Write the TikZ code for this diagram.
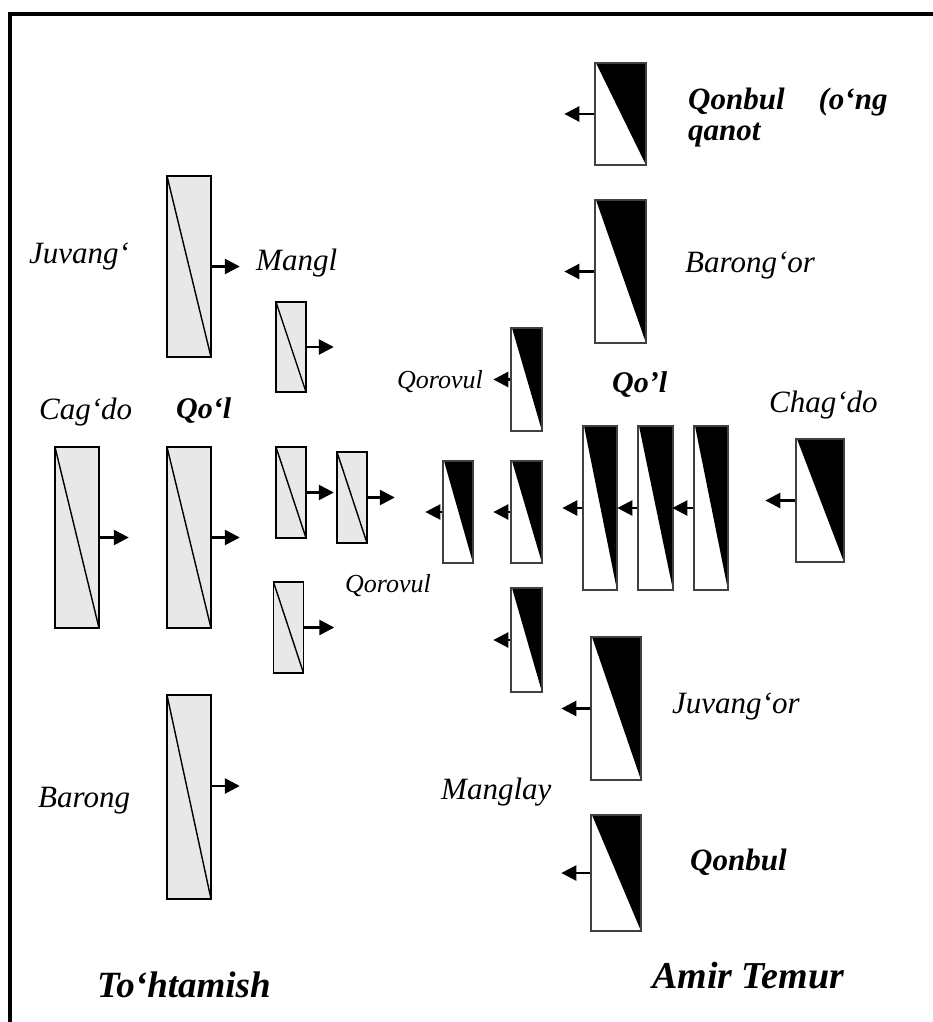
\documentclass[tikz,border=0pt]{standalone}
\usepackage{fontspec}
\setmainfont{Liberation Serif}
\usetikzlibrary{arrows.meta, positioning}
\definecolor{boxgrey}{RGB}{232,232,232}

\begin{document}
\begin{tikzpicture}[x=1pt,y=-1pt,
	tbox/.style={draw,line width=1.6pt,fill=boxgrey,inner sep=0pt,
		path picture={\draw[black,line width=1.4pt] (path picture bounding box.north west) -- (path picture bounding box.south east);}},
	abox/.style={draw=black!75,line width=1.3pt,fill=white,inner sep=0pt,
		path picture={\fill[black] ([xshift=1pt]path picture bounding box.north west) -- (path picture bounding box.north east) -- (path picture bounding box.south east) -- cycle;}},
	wh/.style 2 args={minimum width=#1pt,minimum height=#2pt},
	lbl/.style={font=\fontsize{31}{34}\selectfont\itshape,inner sep=0pt,anchor=base west},
	lbls/.style={font=\fontsize{26}{29}\selectfont\itshape,inner sep=0pt,anchor=base west},
	lblb/.style={font=\fontsize{31}{34}\selectfont\bfseries\itshape,inner sep=0pt,anchor=base west},
	lblh/.style={font=\fontsize{38}{42}\selectfont\bfseries\itshape,inner sep=0pt,anchor=base west}]
					\useasboundingbox (0,0) rectangle (933,1022);
					\draw[line width=4pt] (9.5,1022) -- (9.5,14) -- (933,14);
					
					% To'htamish
					\node[tbox,wh={44}{181}] (Juv) at (189,266.5) {};
					\node[tbox,wh={44}{181}] (Cag) at (77,537.5) {};
					\node[tbox,wh={44}{181}] (Qol) at (189,537.5) {};
					\node[tbox,wh={44}{204}] (Bar) at (189,797) {};
					\node[tbox,wh={30}{90}] (Man1) at (291,347) {};
					\node[tbox,wh={30}{91}] (Qor1) at (291,492.5) {};
					\node[tbox,wh={30}{91}] (Qor2) at (352,497.5) {};
					\node[tbox,wh={30}{91}] (Man2) at (288.5,627.5) {};
					
					% Amir Temur
					\node[abox,wh={51}{102}] (Qon1) at (620.5,114) {};
					\node[abox,wh={51}{143}] (BarO) at (620.5,271.5) {};
					\node[abox,wh={31}{103}] (QorA) at (526.5,379.5) {};
					\node[abox,wh={30}{102}] (QorD) at (458,512) {};
					\node[abox,wh={31}{102}] (QorE) at (526.5,512) {};
					\node[abox,wh={34}{164}] (QolF) at (600,508) {};
					\node[abox,wh={35}{164}] (QolG) at (655.5,508) {};
					\node[abox,wh={34}{164}] (QolH) at (711,508) {};
					\node[abox,wh={48}{123}] (Chag) at (820,500.5) {};
					\node[abox,wh={31}{104}] (ManA) at (526.5,640) {};
					\node[abox,wh={50}{143}] (JuvO) at (616,708.5) {};
					\node[abox,wh={50}{116}] (Qon2) at (616,873) {};
					
					% labels
					\node[lbl] (lJuv) at (29,263) {Juvang‘};
					\node[lbl] (lMan) at (256,270) {Mangl};
					\node[lbl] (lCag) at (39,419) {Cag‘do};
					\node[lblb,font=\fontsize{30}{33}\selectfont\bfseries\itshape] (lQol) at (176,418) {Qo‘l};
					\node[lbl] (lBar) at (38,807) {Barong};
					\node[lbls,anchor=base east] (lQorA) at (483,388) {Qorovul};
					\node[lbls] (lQorB) at (345,592) {Qorovul};
					\node[lblb,font=\fontsize{30}{33}\selectfont\bfseries\itshape] (lQolA) at (612,392) {Qo’l};
					\node[lbl] (lChag) at (769,412) {Chag‘do};
					\node[lblb] (lQon1) at (688,110) {Qonbul\hspace{34pt}(o‘ng};
					\node[lblb] (lQan) at (688,140) {qanot};
					\node[lbl] (lBarO) at (685,272) {Barong‘or};
					\node[lbl] (lJuvO) at (672,713) {Juvang‘or};
					\node[lbl] (lMang) at (441,799) {Manglay};
					\node[lblb] (lQon2) at (690,870) {Qonbul};
					\node[lblh,font=\fontsize{37}{41}\selectfont\bfseries\itshape] (lTox) at (97,997) {To‘htamish};
					\node[lblh] (lAmir) at (652,988) {Amir Temur};
					
					% arrow ends
					\coordinate[right=28pt of Juv] (juvT);
					\coordinate[right=29pt of Cag] (cagT);
					\coordinate[right=28pt of Qol] (qolT);
					\coordinate[right=28pt of Bar,yshift=11pt] (barT);
					\coordinate[right=27pt of Man1] (man1T);
					\coordinate[right=27pt of Qor1] (qor1T);
					\coordinate[right=27pt of Qor2] (qor2T);
					\coordinate[right=30pt of Man2] (man2T);
					\coordinate[left=30pt of Qon1] (qon1T);
					\coordinate[left=30pt of BarO] (barOT);
					\coordinate[left=17pt of QorA] (qorAT);
					\coordinate[left=17pt of QorD] (qorDT);
					\coordinate[left=17pt of QorE] (qorET);
					\coordinate[left=20pt of QolF] (qolFT);
					\coordinate[left=20pt of QolG] (qolGT);
					\coordinate[left=21pt of QolH] (qolHT);
					\coordinate[left=30pt of Chag] (chagT);
					\coordinate[left=17pt of ManA] (manAT);
					\coordinate[left=29pt of JuvO] (juvOT);
					\coordinate[left=29pt of Qon2] (qon2T);
					
					\tikzset{arr/.style={line width=2.6pt,-{Triangle[length=15pt,width=15pt]}}}
					
					\path (Juv) edge [arr] (juvT);
					\path (Cag) edge [arr] (cagT);
					\path (Qol) edge [arr] (qolT);
					\path (Bar.east |- barT) edge [arr] (barT);
					\path (Man1) edge [arr] (man1T);
					\path (Qor1) edge [arr] (qor1T);
					\path (Qor2) edge [arr] (qor2T);
					\path (Man2) edge [arr] (man2T);
					
					\path (Qon1) edge [arr] (qon1T);
					\path (BarO) edge [arr] (barOT);
					\path (QorA) edge [arr] (qorAT);
					\path (QorD) edge [arr] (qorDT);
					\path (QorE) edge [arr] (qorET);
					\path (QolF) edge [arr] (qolFT);
					\path (QolG) edge [arr] (qolGT);
					\path (QolH) edge [arr] (qolHT);
					\path (Chag) edge [arr] (chagT);
					\path (ManA) edge [arr] (manAT);
					\path (JuvO) edge [arr] (juvOT);
					\path (Qon2) edge [arr] (qon2T);
				\end{tikzpicture}
\end{document}
